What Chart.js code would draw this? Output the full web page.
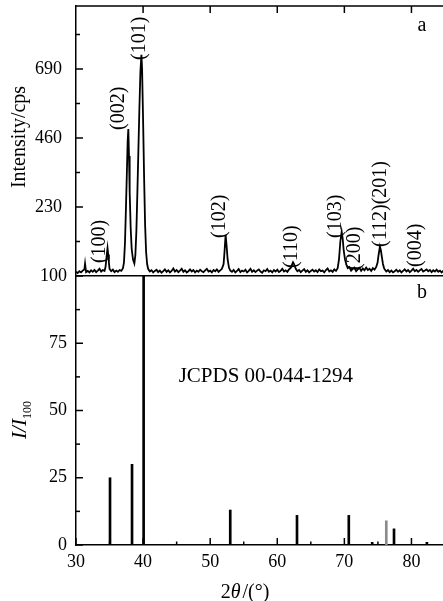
<!DOCTYPE html>
<html><head><meta charset="utf-8">
<script src="https://cdn.jsdelivr.net/npm/chart.js@4.4.0/dist/chart.umd.min.js"></script>
<style>
html,body{margin:0;padding:0;background:#fff;overflow:hidden;width:443px;height:601px;position:relative;}
#cTop{position:absolute;left:0;top:0;}
#cBot{position:absolute;left:0;top:256px;}
</style></head><body>
<canvas id="cTop" width="445" height="277"></canvas>
<canvas id="cBot" width="445" height="345"></canvas>
<script>
// ---------- DATA ----------
// (a) measured XRD pattern
const twoTheta = [
 30.00,30.25,30.50,30.75,31.00,31.25,31.35,31.50,31.75,32.00,32.25,32.50,32.75,33.00,33.25,33.50,33.75,34.00,34.25,
 34.40,34.55,34.70,34.80,34.90,35.00,35.25,35.50,35.75,36.00,36.25,36.50,36.75,37.00,
 37.15,37.30,37.45,37.60,37.70,37.80,37.90,38.00,38.15,38.30,38.50,38.70,38.85,39.00,39.15,39.30,39.45,39.60,39.75,39.85,40.00,40.15,40.30,40.45,40.60,40.75,
 41.00,41.25,41.50,41.75,42.00,42.25,42.50,42.75,43.00,43.25,43.50,43.75,44.00,44.25,44.50,44.75,45.00,45.25,45.50,45.75,
 46.00,46.25,46.50,46.75,47.00,47.25,47.50,47.75,48.00,48.25,48.50,48.75,49.00,49.25,49.50,49.75,50.00,50.25,50.50,50.75,
 51.00,51.25,51.50,51.75,52.00,52.15,52.30,52.45,52.60,52.80,53.00,53.25,53.50,53.75,54.00,54.25,54.50,54.75,
 55.00,55.25,55.50,55.75,56.00,56.25,56.50,56.75,57.00,57.25,57.50,57.75,58.00,58.25,58.50,58.75,59.00,59.25,59.50,59.75,
 60.00,60.25,60.50,60.75,61.00,61.25,61.50,61.75,62.00,62.20,62.35,62.50,62.65,62.80,63.00,63.25,63.50,63.75,
 64.00,64.25,64.50,64.75,65.00,65.25,65.50,65.75,66.00,66.25,66.50,66.75,67.00,67.25,67.50,67.75,68.00,68.25,68.50,68.75,
 69.00,69.20,69.40,69.60,69.75,69.90,70.10,70.30,70.50,70.75,71.00,71.25,71.50,71.75,72.00,72.25,72.50,72.75,
 73.00,73.25,73.50,73.75,74.00,74.25,74.50,74.75,74.95,75.10,75.30,75.45,75.60,75.75,75.90,76.00,76.25,76.50,76.75,
 77.00,77.25,77.50,77.75,78.00,78.25,78.50,78.75,79.00,79.25,79.50,79.75,80.00,80.25,80.50,80.75,
 81.00,81.25,81.50,81.75,82.00,82.25,82.50,82.75,83.00,83.25,83.50,83.75,84.00,84.25,84.50,84.75,85.00
];
const intensity = [
 14,10,16,12,18,22,41,13,17,12,19,14,20,13,18,24,15,20,17,
 30,62,93,72,45,24,16,21,13,18,14,20,17,26,
 45,110,230,360,450,490,400,280,160,90,55,42,70,150,280,420,560,680,737,690,520,330,170,80,40,24,
 15,19,12,17,21,13,18,11,16,22,14,19,12,17,25,15,20,13,18,24,
 14,19,12,16,22,15,20,12,18,14,21,16,13,19,24,15,18,12,20,16,
 22,14,19,24,40,85,137,100,55,28,18,14,20,12,17,23,13,18,
 15,21,12,17,24,14,19,13,18,22,15,11,19,16,23,14,18,12,20,15,
 21,13,17,24,15,19,14,22,27,38,46,40,30,22,16,20,13,18,
 23,14,19,12,17,21,15,19,13,22,16,18,12,20,25,15,19,14,22,17,
 26,55,115,148,125,85,55,38,26,30,18,24,28,16,22,27,17,25,
 19,28,20,24,17,26,21,30,45,70,98,85,62,40,28,22,15,20,13,
 18,12,16,21,14,19,12,17,22,15,20,13,18,24,16,20,
 14,19,23,15,18,22,16,20,13,19,15,21,14,18,12,17,15
];
// (b) JCPDS 00-044-1294 reference lines
const stickAngles    = [35.07, 38.35, 40.08, 52.99, 62.94, 70.66, 74.15, 76.25, 77.40, 82.30];
const stickIntensity = [25, 30, 100, 13, 11, 11, 1, 9, 6, 1];
const stickGrey      = [false,false,false,false,false,false,false,true,false,false];
// peak labels (Miller indices) with their anchor in data units
const peakText  = ['(100)','(002)','(101)','(102)','(110)','(103)','(200)','(112)(201)','(004)'];
const peakAngle = [33.6, 36.3, 39.45, 51.5, 62.2, 68.65, 71.6, 75.4, 80.6];
const peakAnchor= [43, 487, 720, 127, 27, 127, 20, 97, 30];
// axis ticks
const xTicks = [30,40,50,60,70,80];
const xTopTicks = [40,50,60,70,80];
const xMinor = [35,45,55,65,75,85];
const topYTicks = [230,460,690];
const topYMinor = [115,345,575,805];
const botYTicks = [0,25,50,75,100];
const botYMinor = [12.5,37.5,62.5,87.5];

// ---------- STYLE ----------
const FONT = '"Liberation Serif","Times New Roman",serif';
const BLACK = '#000';

const inwardTicks = {
  id:'inwardTicks',
  afterDatasetsDraw(chart, args, opts){
    const ctx = chart.ctx, a = chart.chartArea;
    ctx.save(); ctx.strokeStyle = BLACK; ctx.lineWidth = 1.5;
    if (opts.topBorder){ ctx.beginPath(); ctx.moveTo(a.left-0.75,a.top); ctx.lineTo(a.right,a.top); ctx.stroke(); }
    (opts.marks||[]).forEach(m=>{
      const sc = chart.scales[m.scale];
      m.values.forEach(v=>{
        const p = sc.getPixelForValue(v);
        ctx.beginPath();
        if (m.edge==='left'){ ctx.moveTo(a.left,p); ctx.lineTo(a.left+m.len,p); }
        else if (m.edge==='top'){ ctx.moveTo(p,a.top); ctx.lineTo(p,a.top+m.len); }
        else { ctx.moveTo(p,a.bottom); ctx.lineTo(p,a.bottom-m.len); }
        ctx.stroke();
      });
    });
    ctx.restore();
  }
};

function drawPieces(ctx, pieces, x, y, rotate){
  ctx.save();
  ctx.translate(x,y);
  if (rotate) ctx.rotate(-Math.PI/2);
  ctx.textBaseline = 'alphabetic'; ctx.textAlign = 'left'; ctx.fillStyle = BLACK;
  let total = 0;
  pieces.forEach(p=>{ ctx.font = p.font; total += ctx.measureText(p.t).width + (p.gap||0); });
  let cx = -total/2;
  pieces.forEach(p=>{ ctx.font = p.font; ctx.fillText(p.t, cx, p.dy||0); cx += ctx.measureText(p.t).width + (p.gap||0); });
  ctx.restore();
}

const topText = {
  id:'topText',
  afterDraw(chart){
    const ctx = chart.ctx, xs = chart.scales.x, ys = chart.scales.y;
    ctx.save(); ctx.fillStyle = BLACK;
    ctx.font = '20px '+FONT; ctx.textAlign='center'; ctx.textBaseline='middle';
    ctx.fillText('a', 422, 26);
    peakText.forEach((t,i)=>{
      const px = xs.getPixelForValue(peakAngle[i]);
      const py = ys.getPixelForValue(peakAnchor[i]);
      ctx.save(); ctx.translate(px,py); ctx.rotate(-Math.PI/2);
      ctx.font = '20px '+FONT; ctx.textAlign='left'; ctx.textBaseline='middle';
      ctx.fillText(t,0,0); ctx.restore();
    });
    ctx.restore();
    drawPieces(ctx,[{t:'Intensity/cps',font:'20px '+FONT}],25,137,true);
  }
};

const botText = {
  id:'botText',
  afterDraw(chart){
    const ctx = chart.ctx, xs = chart.scales.x, ys = chart.scales.y;
    ctx.save(); ctx.fillStyle = BLACK;
    ctx.font = '20px '+FONT; ctx.textAlign='center'; ctx.textBaseline='middle';
    ctx.fillText('b', 422, 37);
    ctx.font = '21px '+FONT; ctx.textAlign='left'; ctx.textBaseline='middle';
    ctx.fillText('JCPDS 00-044-1294', xs.getPixelForValue(45.3), ys.getPixelForValue(62.5));
    ctx.restore();
    drawPieces(ctx,[{t:'I/I',font:'italic 21px '+FONT},{t:'100',font:'12px '+FONT,dy:5}],26,164,true);
    drawPieces(ctx,[{t:'2',font:'20px '+FONT},{t:'θ',font:'italic 20px '+FONT,gap:2},{t:'/(°)',font:'20px '+FONT}],245,342,false);
  }
};

function fixW(s){ s.width = 76; s.paddingTop=0; s.paddingBottom=0; }
function setTicks(arr){ return s=>{ s.ticks = arr.map(v=>({value:v})); }; }

// ---------- TOP CHART ----------
new Chart(document.getElementById('cTop'),{
  type:'line',
  data:{datasets:[{
    data: twoTheta.map((x,i)=>({x:x,y:intensity[i]})),
    borderColor:BLACK, borderWidth:1.8, pointRadius:0, tension:0, fill:false
  }]},
  options:{
    responsive:false, animation:false, devicePixelRatio:1,
    layout:{padding:{top:6,bottom:1,left:0,right:0}},
    plugins:{legend:{display:false},tooltip:{enabled:false},
      inwardTicks:{topBorder:true,marks:[
        {scale:'x',edge:'top',values:xTopTicks,len:7},
        {scale:'y',edge:'left',values:topYTicks,len:7},
        {scale:'y',edge:'left',values:topYMinor,len:4}
      ]}},
    scales:{
      x:{type:'linear',min:30,max:85,
        ticks:{display:false},grid:{display:false,drawTicks:false},
        border:{display:true,color:BLACK,width:1.5},
        afterFit:s=>{s.height=0;s.paddingLeft=0;s.paddingRight=0;}},
      y:{type:'linear',min:0,max:900,
        afterBuildTicks:setTicks(topYTicks),
        ticks:{color:BLACK,font:{family:FONT,size:18},padding:14},
        grid:{display:false,drawTicks:false},
        border:{display:true,color:BLACK,width:1.5},
        afterFit:fixW}
    }
  },
  plugins:[inwardTicks,topText]
});

// ---------- BOTTOM CHART ----------
new Chart(document.getElementById('cBot'),{
  type:'bar',
  data:{datasets:[{
    data: stickAngles.map((x,i)=>({x:x,y:stickIntensity[i]})),
    backgroundColor: stickGrey.map(g=>g?'#8a8a8a':BLACK),
    borderWidth:0, barThickness:2, grouped:false
  }]},
  options:{
    responsive:false, animation:false, devicePixelRatio:1,
    layout:{padding:{top:20,bottom:0,left:0,right:0}},
    plugins:{legend:{display:false},tooltip:{enabled:false},
      inwardTicks:{marks:[
        {scale:'x',edge:'bottom',values:xTicks,len:7},
        {scale:'x',edge:'bottom',values:xMinor,len:3.5},
        {scale:'y',edge:'left',values:botYTicks,len:7},
        {scale:'y',edge:'left',values:botYMinor,len:4}
      ]}},
    scales:{
      x:{type:'linear',min:30,max:85,offset:false,
        afterBuildTicks:setTicks(xTicks),
        ticks:{color:BLACK,font:{family:FONT,size:18},padding:6,maxRotation:0},
        grid:{display:false,drawTicks:false,offset:false},
        border:{display:true,color:BLACK,width:1.5},
        afterFit:s=>{s.height=56;s.paddingLeft=0;s.paddingRight=0;}},
      y:{type:'linear',min:0,max:100,
        afterBuildTicks:setTicks(botYTicks),
        ticks:{color:BLACK,font:{family:FONT,size:18},padding:9},
        grid:{display:false,drawTicks:false},
        border:{display:true,color:BLACK,width:1.5},
        afterFit:fixW}
    }
  },
  plugins:[inwardTicks,botText]
});
</script>
</body></html>
